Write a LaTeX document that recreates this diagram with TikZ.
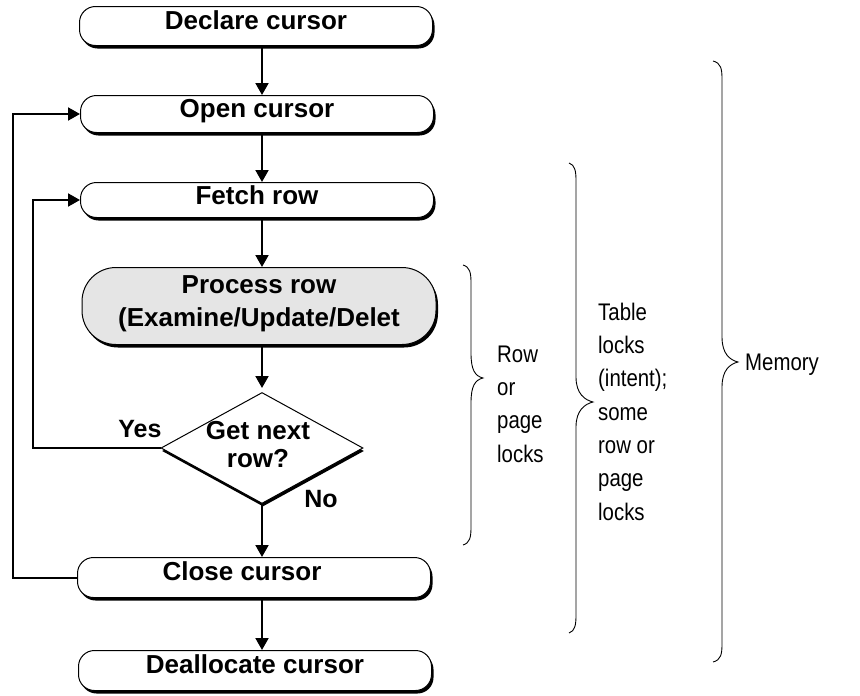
\documentclass[tikz,border=0pt]{standalone}
\usepackage{fontspec}
\setmainfont{Liberation Sans}
\newfontfamily\narrowsans[FakeStretch=0.85]{Liberation Sans}
\usetikzlibrary{shapes.geometric,arrows.meta,shadows}
\newcommand{\drawbrace}[6]{%
  \draw[bracestyle] (#1,#4) .. controls ({#2-1},{#4+2}) and (#2,{#4+8}) .. (#2,{#4+18})
    -- (#2,{#5-25}) .. controls (#2,{#5-8}) and ({#3-8},{#5-2}) .. (#3,#5)
    .. controls ({#3-8},{#5+2}) and (#2,{#5+8}) .. (#2,{#5+25})
    -- (#2,{#6-18}) .. controls (#2,{#6-8}) and ({#2-1},{#6-2}) .. (#1,#6);}
\begin{document}
\begin{tikzpicture}[x=1pt,y=-1pt,
  box/.style={draw=black, line width=1pt, fill=white, rounded corners=16pt,
    minimum width=353pt, inner sep=0pt,
    font=\bfseries\fontsize{26}{30}\selectfont,
    drop shadow={shadow xshift=2pt,shadow yshift=-3pt,fill=black,opacity=1}},
  decision/.style={diamond, draw=black, line width=1pt, fill=white,
    minimum width=202pt, minimum height=111pt, inner sep=0pt,
    drop shadow={shadow xshift=1pt,shadow yshift=-3pt,fill=black,opacity=1}},
  dtext/.style={font=\bfseries\fontsize{26}{28}\selectfont, align=center, inner sep=0pt},
  lbl/.style={font=\bfseries\fontsize{25}{30}\selectfont, inner sep=0pt},
  bracetxt/.style={font=\narrowsans\fontsize{24}{33.3}\selectfont, align=left, inner sep=0pt},
  conn/.style={line width=2pt, -{Triangle[length=12pt,width=13pt]}},
  bracestyle/.style={line width=0.9pt}
]
\useasboundingbox (0,0) rectangle (860,696);

% boxes
\node[box, text height=23pt, text depth=16pt, anchor=north] (decl) at (256,6) {Declare cursor};
\node[box, text height=22pt, text depth=15pt, anchor=north] (open) at (257,95) {Open cursor};
\node[box, text height=22pt, text depth=13pt, anchor=north] (fetch) at (257,182) {Fetch row};
\node[box, fill=gray!20, rounded corners=34pt, minimum width=354pt, align=center,
      font=\bfseries\fontsize{26}{33}\selectfont,
      text height=59pt, text depth=18pt, anchor=north] (proc) at (259,267)
      {Process row\\(Examine/Update/Delet};
\node[decision] (dec) at (262,448) {};
\node[dtext, anchor=north] (dectxt) at (258,421.5) {Get next\\row?};
\node[box, text height=23pt, text depth=17pt, anchor=north] (close) at (254,557) {Close cursor\hspace*{24pt}};
\node[box, text height=23pt, text depth=17pt, anchor=north] (dealloc) at (255,650) {Deallocate cursor};

\node[lbl, anchor=base] (yes) at (140,437) {Yes};
\node[lbl, anchor=base] (no) at (321,507) {No};

% connectors
\coordinate (ax) at (262,0);
\coordinate (yl) at (33,0);
\coordinate (ol) at (13,0);
\draw[conn] (decl.south -| ax) -- (open.north -| ax);
\draw[conn] (open.south -| ax) -- (fetch.north -| ax);
\draw[conn] (fetch.south -| ax) -- (proc.north -| ax);
\draw[conn, shorten >=4pt] (proc.south -| ax) -- (dec.north);
\draw[conn] (dec.south) -- (close.north -| ax);
\draw[conn] (close.south -| ax) -- (dealloc.north -| ax);
\draw[conn] (dec.west) -- (dec.west -| yl) |- (fetch.west);
\draw[conn] (close.west) -- (close.west -| ol) |- (open.west);

% braces
\drawbrace{463}{471}{483}{265}{378}{545}
\drawbrace{569}{576}{593}{163}{402}{633}
\drawbrace{713}{722}{738}{61}{362}{662}

\node[bracetxt, anchor=base west] (rowtxt) at (497,462) {Row\\or\\page\\locks};
\node[bracetxt, anchor=base west] (tabtxt) at (598,520) {Table\\locks\\(intent);\\some\\row or\\page\\locks};
\node[bracetxt, anchor=base west] (memtxt) at (745,370) {Memory};
\end{tikzpicture}
\end{document}
